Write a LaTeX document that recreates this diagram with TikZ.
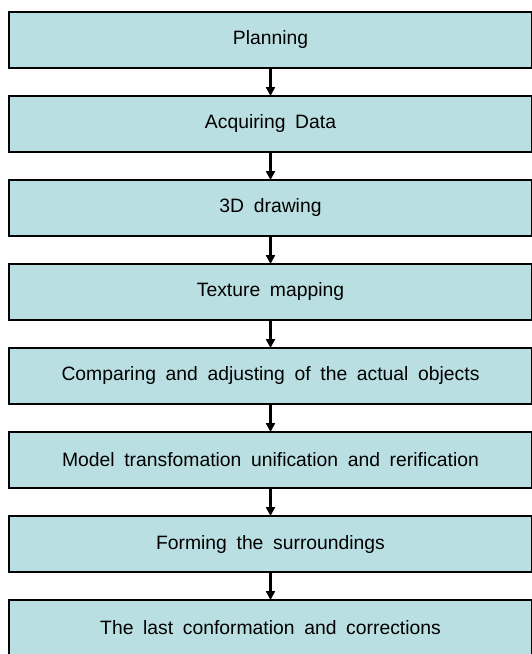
\documentclass[tikz,border=0pt]{standalone}
\usepackage{fontspec}
\setmainfont{Liberation Sans}
\definecolor{boxcyan}{RGB}{186,223,226}
\usetikzlibrary{arrows.meta,positioning}

\begin{document}
\begin{tikzpicture}[
  stepbox/.style={draw, line width=0.8pt, fill=boxcyan, minimum width=10.46cm,
              minimum height=1.12cm, inner sep=0pt, outer sep=0pt, align=center,
              font={\fontsize{11}{13}\selectfont\spaceskip=0.5em\relax}},
  arr/.style={-{Triangle[length=5pt,width=5pt]}, line width=1.4pt, black}
]
\useasboundingbox (0,0) rectangle (10.62,-13.08);
\node[stepbox, anchor=north] (plan) at (5.41,-0.24) {Planning};
\node[stepbox, below=0.56cm of plan] (data) {Acquiring Data};
\node[stepbox, below=0.56cm of data] (draw3d) {3D drawing};
\node[stepbox, below=0.56cm of draw3d] (texture) {Texture mapping};
\node[stepbox, below=0.56cm of texture] (compare) {Comparing and adjusting of the actual objects};
\node[stepbox, below=0.56cm of compare] (model) {Model transfomation unification and rerification};
\node[stepbox, below=0.56cm of model] (surround) {Forming the surroundings};
\node[stepbox, below=0.56cm of surround] (last) {The last conformation and corrections};
\draw[arr] (plan) -- (data); \draw[arr] (data) -- (draw3d);
\draw[arr] (draw3d) -- (texture); \draw[arr] (texture) -- (compare);
\draw[arr] (compare) -- (model); \draw[arr] (model) -- (surround);
\draw[arr] (surround) -- (last);
\end{tikzpicture}
\end{document}
